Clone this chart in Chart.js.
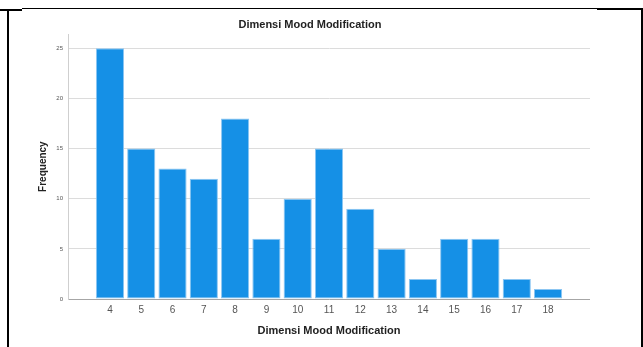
<!DOCTYPE html>
<html>
<head>
<meta charset="utf-8">
<script src="https://cdn.jsdelivr.net/npm/chart.js@4"></script>
<style>
    body { margin: 0; background: #fff; width: 643px; height: 347px; overflow: hidden; position: relative; }
    .line { position: absolute; background: #000; }
    #wrap { position: absolute; left: 10px; top: 12px; width: 580px; height: 335px; }
</style>
</head>
<body>
<!-- table cell borders around the chart -->
<div class="line" style="left:0;top:9px;width:22px;height:2px"></div>
<div class="line" style="left:22px;top:8px;width:575px;height:1px"></div>
<div class="line" style="left:597px;top:8px;width:46px;height:2px"></div>
<div class="line" style="left:7px;top:9px;width:2px;height:338px"></div>
<div class="line" style="left:641px;top:9px;width:2px;height:338px"></div>

<div id="wrap"><canvas id="moodChart"></canvas></div>

<script>
// Scores and their frequencies
const scores = [4, 5, 6, 7, 8, 9, 10, 11, 12, 13, 14, 15, 16, 17, 18];
const frequencies = [25, 15, 13, 12, 18, 6, 10, 15, 9, 5, 2, 6, 6, 2, 1];
const yTicks = [0, 5, 10, 15, 20, 25];

const chartTitle = 'Dimensi Mood Modification';
const xTitle = 'Dimensi Mood Modification';
const yTitle = 'Frequency';

document.addEventListener('DOMContentLoaded', function() {
    initializeMoodChart();
});

function initializeMoodChart() {
    const ctx = document.getElementById('moodChart');
    if (!ctx) return;

    const config = {
        type: 'bar',
        data: {
            datasets: [{
                label: yTitle,
                data: scores.map((s, i) => ({ x: s, y: frequencies[i] })),
                backgroundColor: '#1590e6',
                borderColor: '#8cc6f2',
                borderWidth: 1,
                borderSkipped: false,
                barPercentage: 0.9,
                categoryPercentage: 1.0
            }]
        },
        options: {
            responsive: true,
            maintainAspectRatio: false,
            animation: false,
            layout: {
                padding: { left: 20, right: 0, top: 0, bottom: 0 }
            },
            plugins: {
                legend: { display: false },
                tooltip: { enabled: false },
                title: {
                    display: true,
                    text: chartTitle,
                    color: '#222',
                    font: { family: 'Arial, "Liberation Sans", sans-serif', size: 11, weight: 'bold' },
                    padding: { top: 6, bottom: 3 }
                }
            },
            scales: {
                x: {
                    type: 'linear',
                    offset: false,
                    min: 2.66,
                    max: 19.34,
                    afterBuildTicks: function(axis) {
                        axis.ticks = scores.map(v => ({ value: v }));
                    },
                    afterFit: function(axis) {
                        axis.height = 48;
                    },
                    grid: { display: false, drawTicks: false, tickLength: 0 },
                    border: { display: true, color: '#a6a6a6', width: 1 },
                    ticks: {
                        color: '#555',
                        padding: 5,
                        autoSkip: false,
                        maxRotation: 0,
                        font: { family: 'Arial, "Liberation Sans", sans-serif', size: 10 }
                    },
                    title: {
                        display: true,
                        text: xTitle,
                        color: '#222',
                        font: { family: 'Arial, "Liberation Sans", sans-serif', size: 11, weight: 'bold' },
                        padding: { top: 6, bottom: 9 }
                    }
                },
                y: {
                    min: 0,
                    max: 26.4,
                    afterBuildTicks: function(axis) {
                        axis.ticks = yTicks.map(v => ({ value: v }));
                    },
                    afterFit: function(axis) {
                        axis.width = 38;
                    },
                    grid: {
                        color: '#dcdcdc',
                        lineWidth: 1,
                        tickLength: 0
                    },
                    border: { display: true, color: '#cfcfcf', width: 1 },
                    ticks: {
                        color: '#555',
                        padding: 5,
                        font: { family: 'Arial, "Liberation Sans", sans-serif', size: 6 }
                    },
                    title: {
                        display: true,
                        text: yTitle,
                        color: '#222',
                        font: { family: 'Arial, "Liberation Sans", sans-serif', size: 10, weight: 'bold' },
                        padding: { top: 7, bottom: 0 }
                    }
                }
            }
        }
    };

    new Chart(ctx, config);
}
</script>
</body>
</html>
